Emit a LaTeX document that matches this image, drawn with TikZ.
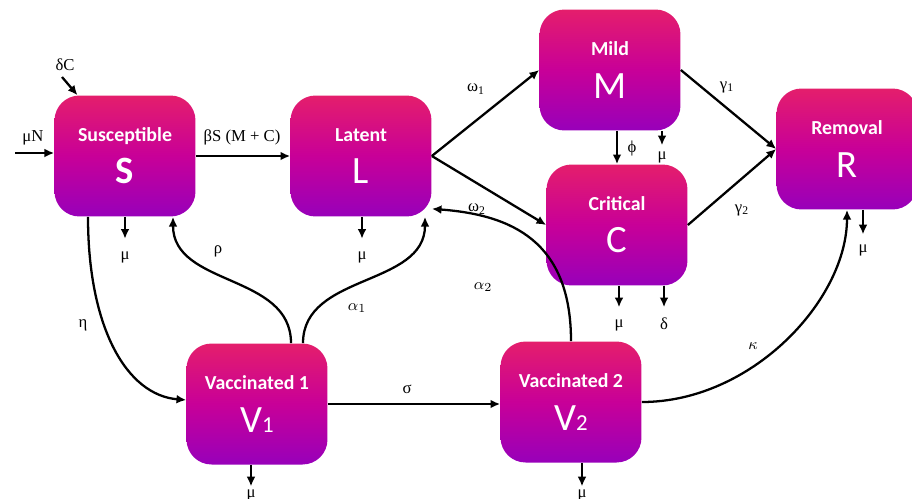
\documentclass[tikz,border=0pt]{standalone}
\usepackage{fontspec}
\setmainfont{Liberation Serif}
\newfontfamily\boxfont{Carlito}
\usetikzlibrary{arrows.meta,calc}

\definecolor{boxtop}{RGB}{228,30,108}
\definecolor{boxmid}{RGB}{200,0,152}
\definecolor{boxbot}{RGB}{152,0,186}

\tikzset{
  compart/.style={rounded corners=0.5cm, minimum width=2.82cm, minimum height=2.42cm,
    top color=boxtop, bottom color=boxbot, middle color=boxmid, text=white,
    align=center, inner sep=0pt, font=\boxfont\fontsize{11.3}{24}\selectfont},
  flow/.style={-{Latex[length=5.5pt,width=5pt]}, line width=1.3pt},
  outflow/.style={flow, shorten >=6pt},
  rate/.style={font=\fontsize{9.5}{10}\selectfont, inner sep=1pt},
}
\newcommand{\bigletter}[1]{{\fontsize{22}{26}\selectfont #1}}
\newcommand{\smallidx}[1]{{\fontsize{13}{14}\selectfont #1}}

\begin{document}
\begin{tikzpicture}[x=0.02cm,y=-0.02cm]
\useasboundingbox (0,0) rectangle (912,498);

% compartments
\node[compart] (S) at (125,156) {\textbf{Susceptible}\\\bigletter{\textbf{S}}};
\node[compart] (L) at (361,156) {\textbf{Latent}\\\bigletter{L}};
\node[compart] (M) at (610,70) {\textbf{Mild}\\\bigletter{M}};
\node[compart] (C) at (617,225) {\textbf{Critical}\\\bigletter{C}};
\node[compart] (R) at (847,149) {\textbf{Removal}\\\bigletter{R}};
\node[compart] (V1) at (257,404) {\textbf{Vaccinated 1}\\\bigletter{V}\smallidx{1}};
\node[compart] (V2) at (571,402) {\textbf{Vaccinated 2}\\\bigletter{V}\smallidx{2}};

% rates
\node[rate] (muN) at (33,138) {μN};
\node[rate] (dC) at (65,65) {δC};
\node[rate] (bS) at (242,137) {βS (M + C)};
\node[rate] (eta) at (83,325) {η};
\node[rate] (rho) at (218,251) {ρ};
\node[rate] (a1) at (357,308) {$\alpha_1$};
\node[rate] (w1) at (476,89) {ω\textsubscript{1}};
\node[rate] (w2) at (477,209) {ω\textsubscript{2}};
\node[rate] (a2) at (483,287) {$\alpha_2$};
\node[rate] (phi) at (632,148) {ϕ};
\node[rate] (g1) at (727,87) {γ\textsubscript{1}};
\node[rate] (g2) at (742,210) {γ\textsubscript{2}};
\node[rate] (sig) at (407,389) {σ};
\node[rate] (kap) at (753,346) {$\kappa$};
\node[rate] (muS) at (125,257) {μ};
\node[rate] (muL) at (362,257) {μ};
\node[rate] (muM) at (662,157) {μ};
\node[rate] (muC) at (619,325) {μ};
\node[rate] (dlC) at (664,324) {δ};
\node[rate] (muR) at (863,250) {μ};
\node[rate] (muV1) at (251,495) {μ};
\node[rate] (muV2) at (582,495) {μ};

% flows
\coordinate (inN) at (15,153);
\draw[flow] (inN) -- (inN -| S.west);
\coordinate (inD) at (62,77);
\draw[flow] (inD) -- (S.128);
\draw[flow] (S.east) -- (L.west);
\draw[outflow] (S.south -| muS) -- (muS);
\draw[flow] ($(S.south)+(-37,0)$) .. controls +(0,110) and +(-60,-5) .. ($(V1.west)+(0,-4)$);
\draw[flow] ($(V1.north)+(34,0)$) .. controls +(0,-70) and +(0,70) .. ($(S.south)+(48,0)$);
\draw[flow] ($(V1.north)+(46,0)$) .. controls +(0,-70) and +(0,70) .. ($(L.south)+(64,0)$);
\draw[outflow] (L.south -| muL) -- (muL);
\draw[flow] (L.east) -- (M.west);
\draw[flow] (L.east) -- (C.west);
\draw[flow] (V2.north) .. controls +(0,-100) and +(80,6) .. ($(L.south east)+(0,-8)$);
\draw[flow] (C.north |- M.south) -- (C.north);
\draw[outflow, shorten >=2.3pt] (M.south -| muM) -- (muM);
\draw[flow] (M.east) -- (R.west);
\draw[flow] (C.east) -- (R.west);
\draw[outflow, shorten >=5.7pt] (C.south -| muC) -- (muC);
\draw[outflow, shorten >=5pt] (C.south -| dlC) -- (dlC);
\draw[outflow, shorten >=4.5pt] (R.south -| muR) -- (muR);
\draw[flow] (V1.east) -- (V1.east -| V2.west);
\draw[flow] (V2.east) .. controls +(110,0) and +(0,90) .. (R.south);
\draw[outflow, shorten >=0.5pt] (V1.south -| muV1) -- (muV1);
\draw[outflow, shorten >=0.5pt] (V2.south -| muV2) -- (muV2);
\end{tikzpicture}
\end{document}
